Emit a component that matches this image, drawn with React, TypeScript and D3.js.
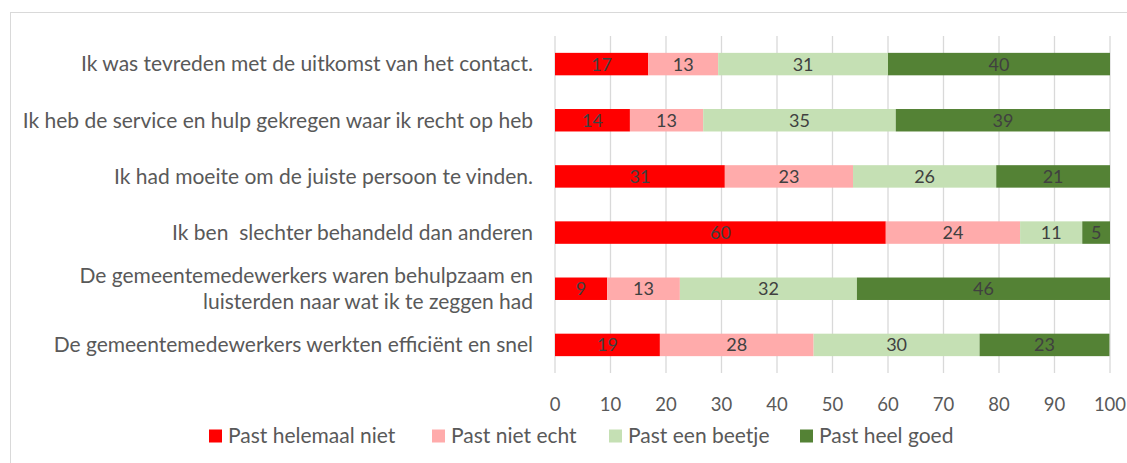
import { useEffect, useRef } from "react";
import * as d3 from "d3";

// statements (top to bottom)
const categories: string[][] = [
  ["Ik was tevreden met de uitkomst van het contact."],
  ["Ik heb de service en hulp gekregen waar ik recht op heb"],
  ["Ik had moeite om de juiste persoon te vinden."],
  ["Ik ben  slechter behandeld dan anderen"],
  ["De gemeentemedewerkers waren behulpzaam en", "luisterden naar wat ik te zeggen had"],
  ["De gemeentemedewerkers werkten efficiënt en snel"],
];

const seriesNames = ["Past helemaal niet", "Past niet echt", "Past een beetje", "Past heel goed"];
const seriesColors = ["#FF0000", "#FFABAB", "#C5E0B4", "#548235"];

// percentages per series, one per statement
const helemaalNiet = [16.8, 13.5, 30.6, 59.6, 9.4, 18.9];
const nietEcht = [12.6, 13.2, 23.1, 24.2, 13.1, 27.7];
const eenBeetje = [30.6, 34.7, 25.8, 11.2, 31.9, 29.9];
const heelGoed = [40.0, 38.6, 20.5, 5.0, 45.6, 23.4];

const xTicks = [0, 10, 20, 30, 40, 50, 60, 70, 80, 90, 100];

const W = 1127;
const H = 463;
const FONT = "Lato, 'Open Sans', sans-serif";

function App() {
  const svgRef = useRef<SVGSVGElement>(null);

  useEffect(() => {
    const svg = d3.select(svgRef.current);
    svg.selectAll("*").remove();

    const series = [helemaalNiet, nietEcht, eenBeetje, heelGoed];
    const rows = categories.map((c, i) => {
      const r: any = { key: String(i) };
      seriesNames.forEach((s, j) => (r[s] = series[j][i]));
      return r;
    });
    const stacked = d3.stack().keys(seriesNames)(rows);

    const x = d3.scaleLinear().domain([0, 100]).range([555, 1110]);
    const y = d3
      .scaleBand()
      .domain(rows.map((r) => r.key))
      .range([36, 373])
      .paddingInner(0.6)
      .paddingOuter(0.3);

    // outer border
    svg
      .append("rect")
      .attr("x", 10.5)
      .attr("y", 12.5)
      .attr("width", W)
      .attr("height", H)
      .attr("fill", "#fff")
      .attr("stroke", "#D9D9D9");

    // gridlines
    svg
      .append("g")
      .selectAll("line")
      .data(xTicks)
      .join("line")
      .attr("x1", (d) => x(d))
      .attr("x2", (d) => x(d))
      .attr("y1", 36)
      .attr("y2", 373)
      .attr("stroke", "#D9D9D9")
      .attr("stroke-width", 1.3);

    // tick labels
    svg
      .append("g")
      .selectAll("text")
      .data(xTicks)
      .join("text")
      .attr("x", (d) => x(d))
      .attr("y", 405)
      .attr("dy", "0.35em")
      .attr("text-anchor", "middle")
      .attr("fill", "#595959")
      .style("font-family", FONT)
      .style("font-size", "18.5px")
      .text((d) => d);

    // bars
    const layer = svg
      .append("g")
      .selectAll("g")
      .data(stacked)
      .join("g")
      .attr("fill", (_, i) => seriesColors[i]);

    layer
      .selectAll("rect")
      .data((d) => d)
      .join("rect")
      .attr("x", (d) => x(d[0]))
      .attr("width", (d) => x(d[1]) - x(d[0]))
      .attr("y", (d: any) => y(d.data.key)!)
      .attr("height", y.bandwidth());

    layer
      .selectAll("text")
      .data((d) => d)
      .join("text")
      .attr("x", (d) => (x(d[0]) + x(d[1])) / 2)
      .attr("y", (d: any) => y(d.data.key)! + y.bandwidth() / 2)
      .attr("dy", "0.36em")
      .attr("text-anchor", "middle")
      .attr("fill", "#404040")
      .style("font-family", FONT)
      .style("font-size", "18px")
      .text((d) => Math.round(d[1] - d[0]));

    // category labels
    const cat = svg
      .append("g")
      .selectAll("text")
      .data(categories)
      .join("text")
      .attr("text-anchor", "end")
      .attr("fill", "#595959")
      .style("font-family", FONT)
      .style("font-size", "21px")
      .style("white-space", "pre")
      .attr("transform", (_, i) => `translate(533,${y(String(i))! + y.bandwidth() / 2})`);

    cat.each(function (lines) {
      const t = d3.select(this);
      lines.forEach((line, k) => {
        t.append("tspan")
          .attr("x", 0)
          .attr("y", (k - (lines.length - 1) / 2) * 26)
          .attr("dy", "0.35em")
          .text(line);
      });
    });

    // legend
    const legendX = [209, 432, 609, 800];
    const leg = svg
      .append("g")
      .selectAll("g")
      .data(seriesNames)
      .join("g")
      .attr("transform", (_, i) => `translate(${legendX[i]},436)`);

    leg
      .append("rect")
      .attr("x", 0)
      .attr("y", -6.5)
      .attr("width", 13)
      .attr("height", 13)
      .attr("fill", (_, i) => seriesColors[i]);

    leg
      .append("text")
      .attr("x", 19)
      .attr("dy", "0.35em")
      .attr("fill", "#595959")
      .style("font-family", FONT)
      .style("font-size", "21px")
      .text((d) => d);
  }, []);

  return (
    <svg
      ref={svgRef}
      width={W}
      height={H}
      style={{ position: "absolute", left: 0, top: 0, background: "#fff" }}
    />
  );
}

export default App;
